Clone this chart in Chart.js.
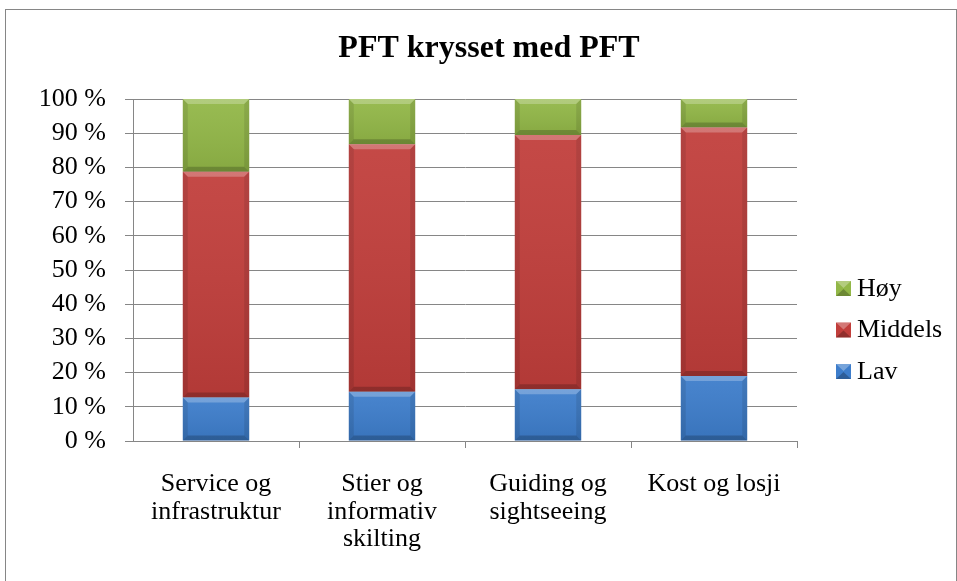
<!DOCTYPE html>
<html>
<head>
<meta charset="utf-8">
<script src="https://cdn.jsdelivr.net/npm/chart.js@4"></script>
<style>
    html, body { margin: 0; padding: 0; background: #fff; }
    #wrap { position: relative; width: 957px; height: 581px; }
</style>
</head>
<body>
<div id="wrap"><canvas id="chart" width="957" height="581"></canvas></div>
<script>
// Kategorier og verdier (andel i prosent)
const categories = [
    ['Service og', 'infrastruktur'],
    ['Stier og', 'informativ', 'skilting'],
    ['Guiding og', 'sightseeing'],
    ['Kost og losji']
];
const lavValues = [12.7, 14.4, 15.1, 19.0];
const middelsValues = [66.0, 72.4, 74.4, 72.7];
const hoyValues = [21.3, 13.2, 10.5, 8.3];
const seriesNames = ['Lav', 'Middels', 'Høy'];
const seriesColors = ['#3d7dcb', '#c13e3b', '#92b747'];
const yTicks = [0, 10, 20, 30, 40, 50, 60, 70, 80, 90, 100];
const titleText = 'PFT krysset med PFT';

const FONT = "'Liberation Serif', 'Times New Roman', serif";
Chart.defaults.font.family = FONT;
Chart.defaults.color = '#000';

// Bevel-effekt (som i Excel) lagt oppå søylene
const bevelPlugin = {
    id: 'bevel',
    afterDatasetsDraw(chart) {
        const ctx = chart.ctx;
        ctx.save();
        chart.data.datasets.forEach((ds, i) => {
            chart.getDatasetMeta(i).data.forEach((bar) => {
                const { x, y, base, width } = bar.getProps(['x', 'y', 'base', 'width'], true);
                const l = x - width / 2, r = x + width / 2;
                const t = Math.min(y, base), b = Math.max(y, base);
                const d = Math.min(5, (b - t) / 3);
                // topp - lys
                ctx.fillStyle = 'rgba(255,255,255,0.25)';
                ctx.beginPath();
                ctx.moveTo(l, t); ctx.lineTo(r, t); ctx.lineTo(r - d, t + d); ctx.lineTo(l + d, t + d);
                ctx.closePath(); ctx.fill();
                // bunn - mørk
                ctx.fillStyle = 'rgba(0,0,0,0.2)';
                ctx.beginPath();
                ctx.moveTo(l, b); ctx.lineTo(r, b); ctx.lineTo(r - d, b - d); ctx.lineTo(l + d, b - d);
                ctx.closePath(); ctx.fill();
                // sider
                ctx.fillStyle = 'rgba(0,0,0,0.1)';
                ctx.beginPath();
                ctx.moveTo(l, t); ctx.lineTo(l + d, t + d); ctx.lineTo(l + d, b - d); ctx.lineTo(l, b);
                ctx.closePath(); ctx.fill();
                ctx.beginPath();
                ctx.moveTo(r, t); ctx.lineTo(r - d, t + d); ctx.lineTo(r - d, b - d); ctx.lineTo(r, b);
                ctx.closePath(); ctx.fill();
                // svak vertikal toning
                const g = ctx.createLinearGradient(0, t, 0, b);
                g.addColorStop(0, 'rgba(255,255,255,0.06)');
                g.addColorStop(1, 'rgba(0,0,0,0.08)');
                ctx.fillStyle = g;
                ctx.fillRect(l, t, width, b - t);
            });
        });
        ctx.restore();
    }
};

// Tittel sentrert over hele diagrammet
const titlePlugin = {
    id: 'centerTitle',
    afterDraw(chart) {
        const ctx = chart.ctx;
        ctx.save();
        ctx.font = 'bold 32px ' + FONT;
        ctx.fillStyle = '#000';
        ctx.textAlign = 'center';
        ctx.textBaseline = 'middle';
        ctx.fillText(titleText, 489, 49);
        ctx.restore();
    }
};

// Egen forklaring til høyre (Høy, Middels, Lav ovenfra og ned)
const legendPlugin = {
    id: 'sideLegend',
    afterDraw(chart) {
        const ctx = chart.ctx;
        const boxX = chart.chartArea.right + 39;
        const firstY = 288;
        const step = 41.5;
        ctx.save();
        ctx.font = '26px ' + FONT;
        ctx.textBaseline = 'middle';
        ctx.textAlign = 'left';
        const order = [2, 1, 0];
        order.forEach((idx, k) => {
            const cy = firstY + k * step;
            ctx.fillStyle = seriesColors[idx];
            ctx.fillRect(boxX, cy - 7, 15, 15);
            ctx.fillStyle = 'rgba(255,255,255,0.3)';
            ctx.beginPath();
            ctx.moveTo(boxX, cy - 7); ctx.lineTo(boxX + 15, cy - 7); ctx.lineTo(boxX + 7.5, cy); ctx.closePath();
            ctx.fill();
            ctx.fillStyle = 'rgba(0,0,0,0.25)';
            ctx.beginPath();
            ctx.moveTo(boxX, cy + 8); ctx.lineTo(boxX + 15, cy + 8); ctx.lineTo(boxX + 7.5, cy + 1); ctx.closePath();
            ctx.fill();
            ctx.fillStyle = '#000';
            ctx.fillText(seriesNames[idx], boxX + 21, cy + 1);
        });
        ctx.restore();
    }
};

// Ramme rundt hele diagrammet
const borderPlugin = {
    id: 'outerBorder',
    afterDraw(chart) {
        const ctx = chart.ctx;
        ctx.save();
        ctx.strokeStyle = '#868686';
        ctx.lineWidth = 1;
        ctx.strokeRect(5.5, 9.5, 951, 580);
        ctx.restore();
    }
};

const chart = new Chart(document.getElementById('chart'), {
    type: 'bar',
    data: {
        labels: categories,
        datasets: [
            { label: seriesNames[0], data: lavValues, backgroundColor: seriesColors[0], borderWidth: 0 },
            { label: seriesNames[1], data: middelsValues, backgroundColor: seriesColors[1], borderWidth: 0 },
            { label: seriesNames[2], data: hoyValues, backgroundColor: seriesColors[2], borderWidth: 0 }
        ]
    },
    options: {
        responsive: false,
        animation: false,
        devicePixelRatio: 1,
        layout: {
            padding: { left: 0, right: 160, top: 99, bottom: 0 }
        },
        datasets: {
            bar: {
                categoryPercentage: 1,
                barPercentage: 0.4
            }
        },
        plugins: {
            title: { display: false },
            legend: { display: false },
            tooltip: { enabled: false }
        },
        scales: {
            x: {
                stacked: true,
                border: { color: '#868686', width: 1 },
                grid: {
                    offset: true,
                    drawOnChartArea: false,
                    drawTicks: true,
                    tickLength: 7,
                    color: (c) => (c.index === 0 ? 'rgba(0,0,0,0)' : '#868686')
                },
                ticks: {
                    color: '#000',
                    font: { family: FONT, size: 26, lineHeight: 1.05 },
                    maxRotation: 0,
                    autoSkip: false,
                    padding: 23
                },
                afterFit: (axis) => { axis.height = 140; }
            },
            y: {
                stacked: true,
                min: 0,
                max: 100,
                border: { color: '#868686', width: 1 },
                grid: {
                    color: '#868686',
                    tickLength: 8
                },
                afterBuildTicks: (axis) => {
                    axis.ticks = yTicks.map(v => ({ value: v }));
                },
                ticks: {
                    color: '#000',
                    font: { family: FONT, size: 26 },
                    padding: 19,
                    callback: (v) => v + ' %'
                },
                afterFit: (axis) => { axis.width = 133; }
            }
        }
    },
    plugins: [bevelPlugin, titlePlugin, legendPlugin, borderPlugin]
});
</script>
</body>
</html>
